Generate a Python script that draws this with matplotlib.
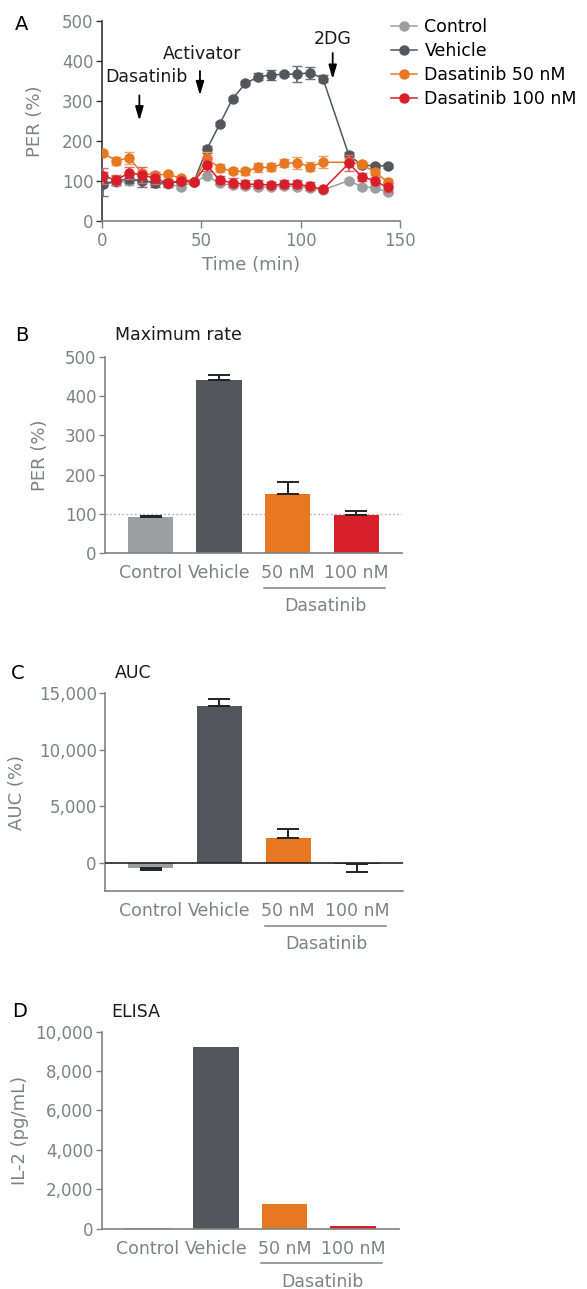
import matplotlib.pyplot as plt
import matplotlib.transforms as mtransforms
from matplotlib.lines import Line2D

# ---- data ----
time_min = [0.7, 7.2, 13.7, 20.2, 26.7, 33.2, 39.7, 46.2, 52.7, 59.2, 65.7,
            72.2, 78.7, 85.2, 91.7, 98.2, 104.7, 111.2, 124.2, 130.7, 137.2, 143.7]
per_control = [92, 97, 99, 103, 94, 92, 86, 98, 113, 94, 90, 88, 85, 85, 88, 86, 83, 78, 101, 86, 83, 73]
per_vehicle = [92, 101, 105, 101, 96, 95, 99, 98, 179, 242, 306, 344, 361, 365, 367, 367, 371, 356,
               165, 140, 138, 138]
per_das50 = [169, 151, 158, 119, 115, 117, 107, 98, 157, 132, 125, 124, 134, 134, 144, 146, 136, 147,
             147, 142, 123, 98]
per_das100 = [113, 102, 121, 115, 107, 94, 101, 98, 140, 102, 96, 92, 92, 90, 92, 92, 87, 79,
              144, 111, 101, 84]
err_control = [8, 8, 8, 10, 8, 6, 5, 5, 5, 5, 5, 5, 5, 5, 5, 5, 5, 5, 5, 5, 5, 5]
err_vehicle = [30, 12, 10, 15, 10, 8, 5, 5, 8, 5, 5, 5, 8, 12, 5, 20, 15, 8, 8, 5, 5, 5]
err_das50 = [5, 10, 15, 5, 5, 5, 5, 3, 15, 10, 8, 8, 12, 10, 10, 15, 12, 15, 10, 8, 8, 8]
err_das100 = [20, 12, 15, 20, 15, 10, 8, 3, 15, 10, 12, 10, 10, 8, 10, 10, 10, 5, 20, 10, 10, 12]
legend_labels = ["Control", "Vehicle", "Dasatinib 50 nM", "Dasatinib 100 nM"]

groups = ["Control", "Vehicle", "50 nM", "100 nM"]
max_rate = [91, 441, 150, 97]
max_rate_err = [4, 12, 30, 11]
auc = [-500, 13900, 2130, -100]
auc_err = [200, 600, 870, 780]
il2 = [50, 9240, 1240, 120]

# ---- style ----
colors = ["#9c9ea1", "#53565a", "#e87722", "#d71f2a"]
err_colors = ["#b5b7ba", "#6d7074", "#f0a060", "#e8606a"]
tick_gray = "#7e8186"
spine_gray = "#808285"

plt.rcParams['font.family'] = ['DejaVu Sans']

fig = plt.figure(figsize=(5.87, 12.89), dpi=100)


def style_axes(ax, spine_color):
    for s in ["top", "right"]:
        ax.spines[s].set_visible(False)
    for s in ["left", "bottom"]:
        ax.spines[s].set_color(spine_color)
        ax.spines[s].set_linewidth(1.2)
    ax.tick_params(axis="y", colors=spine_color, labelcolor=tick_gray, labelsize=12,
                   length=4, width=1.0, pad=2)


# ---------------- Panel A ----------------
axA = fig.add_axes([0.1738, 0.8285, 0.5077, 0.1552])
series = [per_control, per_vehicle, per_das50, per_das100]
errs = [err_control, err_vehicle, err_das50, err_das100]
for i in range(4):
    axA.errorbar(time_min, series[i], yerr=errs[i], color=colors[i], ecolor=err_colors[i],
                 marker="o", markersize=6.5, linewidth=1.1, elinewidth=1.4, capsize=3.5,
                 zorder=3 + i)
axA.set_xlim(0, 150)
axA.set_ylim(0, 500)
axA.set_xticks([0, 50, 100, 150])
axA.set_yticks([0, 100, 200, 300, 400, 500])
style_axes(axA, "#333333")
axA.spines["bottom"].set_color(spine_gray)
axA.tick_params(axis="x", colors=spine_gray, labelcolor=tick_gray, labelsize=12,
                length=5, width=1.0, pad=3)
axA.set_ylabel("PER (%)", color=tick_gray, fontsize=13)
axA.yaxis.set_label_coords(-0.195, 0.5)
axA.set_xlabel("Time (min)", color=tick_gray, fontsize=13, labelpad=4)

arrow_kw = dict(arrowstyle="-|>,head_width=0.22,head_length=0.75", color="black",
                lw=1.3, mutation_scale=11)
axA.annotate("", xy=(18.8, 244), xytext=(18.8, 321), arrowprops=arrow_kw)
axA.text(22.6, 361, "Dasatinib", ha="center", va="center", fontsize=12.5, color="#1a1a1a")
axA.annotate("", xy=(49.3, 307), xytext=(49.3, 382), arrowprops=arrow_kw)
axA.text(50.3, 418, "Activator", ha="center", va="center", fontsize=12.5, color="#1a1a1a")
axA.annotate("", xy=(116.1, 348), xytext=(116.1, 427), arrowprops=arrow_kw)
axA.text(116, 455, "2DG", ha="center", va="center", fontsize=12.5, color="#1a1a1a")

handles = [Line2D([], [], color=c, marker="o", markersize=6.5, linewidth=1.1)
           for c in colors]
axA.legend(handles, legend_labels, loc="upper left", bbox_to_anchor=(0.945, 1.05),
           frameon=False, fontsize=12.5, handlelength=1.5, handletextpad=0.45,
           labelspacing=0.35, borderaxespad=0)
fig.text(0.037, 0.981, "A", fontsize=14, ha="center", va="center")


# ---------------- bar panels ----------------
def bar_panel(rect, values, yerr, ylim, yticks, yticklabels, ylabel, label_x,
              letter, letter_xy, title, title_xy, zero_line=False, ref_line=None):
    ax = fig.add_axes(rect)
    x = list(range(len(values)))
    ax.bar(x, values, width=0.66, color=colors, zorder=2)
    if yerr is not None:
        for xi, v, e in zip(x, values, yerr):
            lo, hi = (0, e) if v >= 0 else (e, 0)
            ax.errorbar([xi], [v], yerr=[[lo], [hi]], fmt="none", ecolor="#222222",
                        elinewidth=1.4, capsize=8, capthick=1.4, zorder=3)
    ax.set_xlim(-0.665, 3.67)
    ax.set_ylim(*ylim)
    ax.set_yticks(yticks)
    ax.set_yticklabels(yticklabels)
    ax.set_xticks(x)
    ax.set_xticklabels(groups)
    style_axes(ax, spine_gray)
    ax.tick_params(axis="x", length=0, labelcolor=tick_gray, labelsize=12.5, pad=8)
    ax.set_ylabel(ylabel, color=tick_gray, fontsize=13)
    ax.yaxis.set_label_coords(label_x, 0.5)
    if zero_line:
        ax.axhline(0, color="#222222", lw=1.2, zorder=4)
    if ref_line is not None:
        ax.axhline(ref_line, color="#bbbbbb", lw=1.0, ls=(0, (1.5, 1.5)), zorder=1)
    trans = mtransforms.blended_transform_factory(ax.transData, ax.transAxes)
    ax.plot([1.66, 3.42], [-0.177, -0.177], transform=trans, color=spine_gray,
            lw=1.1, clip_on=False)
    ax.text(2.55, -0.27, "Dasatinib", transform=trans, ha="center", va="center",
            fontsize=12.5, color=tick_gray)
    fig.text(letter_xy[0], letter_xy[1], letter, fontsize=14, ha="center", va="center")
    fig.text(title_xy[0], title_xy[1], title, fontsize=12.5, ha="left", va="center",
             color="#1a1a1a")
    return ax


bar_panel([0.1789, 0.5710, 0.5060, 0.1521], max_rate, max_rate_err, (0, 500),
          [0, 100, 200, 300, 400, 500], ["0", "100", "200", "300", "400", "500"],
          "PER (%)", -0.189, "B", (0.037, 0.740), "Maximum rate", (0.196, 0.740),
          ref_line=100)

bar_panel([0.1789, 0.3090, 0.5077, 0.1531], auc, auc_err, (-2500, 15000),
          [0, 5000, 10000, 15000], ["0", "5,000", "10,000", "15,000"],
          "AUC (%)", -0.266, "C", (0.030, 0.4777), "AUC", (0.196, 0.4777),
          zero_line=True)

bar_panel([0.1733, 0.0469, 0.5064, 0.1527], il2, None, (0, 10000),
          [0, 2000, 4000, 6000, 8000, 10000],
          ["0", "2,000", "4,000", "6,000", "8,000", "10,000"],
          "IL-2 (pg/mL)", -0.245, "D", (0.034, 0.2151), "ELISA", (0.190, 0.2151))

fig.savefig("out.png", dpi=100)
